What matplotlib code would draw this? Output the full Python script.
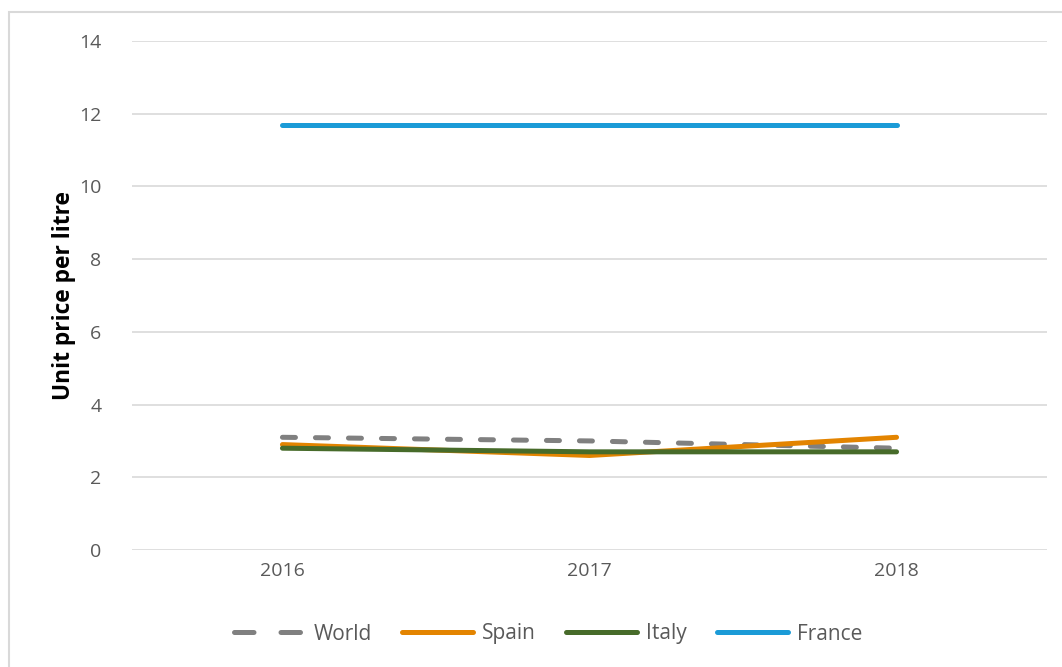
import matplotlib
matplotlib.use("Agg")
import matplotlib.pyplot as plt
from matplotlib.patches import Rectangle
from matplotlib.legend_handler import HandlerLine2D

years = ["2016", "2017", "2018"]
world = [3.1, 3.0, 2.8]
spain = [2.9, 2.6, 3.1]
italy = [2.8, 2.7, 2.7]
france = [11.7, 11.7, 11.7]
yticks = [0, 2, 4, 6, 8, 10, 12, 14]

plt.rcParams["font.family"] = ["Open Sans", "DejaVu Sans"]

fig = plt.figure(figsize=(10.62, 6.67), dpi=100)
ax = fig.add_axes([132 / 1062, 1 - 550 / 667, (1047 - 132) / 1062, (550 - 41) / 667])

x = list(range(len(years)))
lw = 3.6
world_line, = ax.plot(x, world, color="#808080", lw=lw, dashes=(2.6, 4.0),
                      dash_capstyle="round", solid_capstyle="round", label="World", zorder=3)
ax.plot(x, spain, color="#e38400", lw=lw, solid_capstyle="round", label="Spain", zorder=3)
ax.plot(x, italy, color="#476b2a", lw=lw, solid_capstyle="round", label="Italy", zorder=4)
ax.plot(x, france, color="#1b9bd7", lw=lw, solid_capstyle="round", label="France", zorder=3)

ax.set_xlim(-0.49, 2.49)
ax.set_ylim(0, 14)
ax.set_yticks(yticks)
ax.set_xticks(x)
ax.set_xticklabels(years)
ax.grid(axis="y", color="#d9d9d9", lw=1.2)
ax.set_axisbelow(True)
for s in ax.spines.values():
    s.set_visible(False)
ax.tick_params(length=0, labelsize=14, labelcolor="#595959", pad=9)
ax.tick_params(axis="y", pad=22)
ax.set_ylabel("Unit price per litre", fontsize=16.4, fontweight="bold", color="black", labelpad=2)


def two_dash_handle(legend_line, orig_line):
    legend_line.update_from(orig_line)
    legend_line.set_dashes((3.9, 5.4))


fig.legend(loc="center", bbox_to_anchor=(0.516, 1 - 634 / 667), ncol=4, frameon=False,
           fontsize=15, handlelength=3.4, handletextpad=0.43, columnspacing=1.45,
           labelcolor="#595959",
           handler_map={world_line: HandlerLine2D(update_func=two_dash_handle)})

# chart frame
fig.patches.append(Rectangle((9 / 1062, -0.01), 1.05, 1 - 12 / 667 + 0.01,
                             transform=fig.transFigure, fill=False,
                             edgecolor="#d9d9d9", lw=1.5))

fig.savefig("out.png", dpi=100)
